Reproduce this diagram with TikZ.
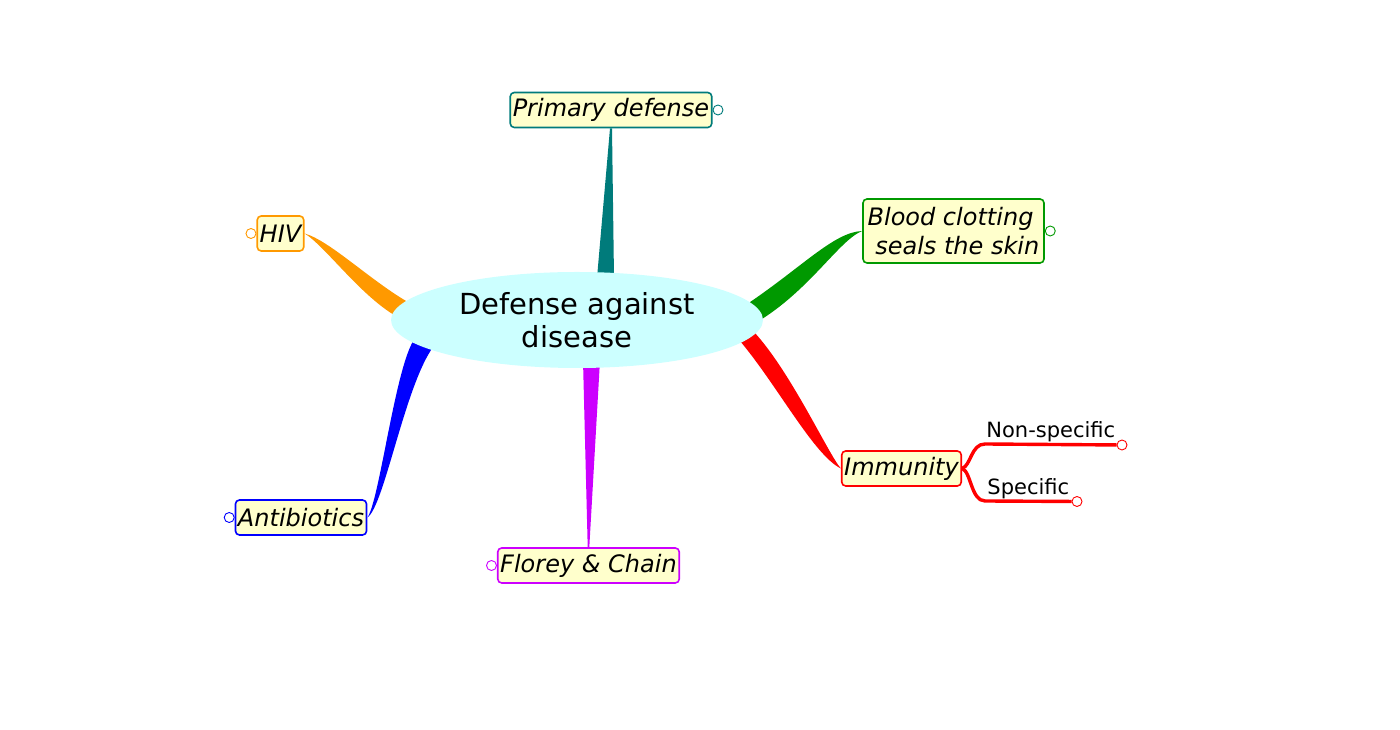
\documentclass[tikz,border=0pt]{standalone}
\usepackage{fontspec}
\setmainfont{DejaVu Sans}
\usepackage{tikz}
\usetikzlibrary{shapes.geometric,positioning,backgrounds}
\definecolor{rootfill}{RGB}{204,255,255}
\definecolor{topicfill}{RGB}{255,255,204}
\definecolor{primcol}{RGB}{0,123,123}
\definecolor{bloodcol}{RGB}{0,153,0}
\definecolor{immcol}{RGB}{255,0,0}
\definecolor{flocol}{RGB}{204,0,255}
\definecolor{anticol}{RGB}{0,0,255}
\definecolor{hivcol}{RGB}{255,153,0}
\tikzstyle{root} = [ellipse, fill=rootfill, minimum width=372pt, minimum height=96pt, inner sep=0pt, align=center, font=\fontsize{29}{33}\selectfont]
\tikzstyle{topic} = [rectangle, rounded corners=4pt, fill=topicfill, line width=1.6pt, inner xsep=2.5pt, inner ysep=5pt, minimum height=35pt, font=\fontsize{24}{29}\selectfont\itshape]
\tikzstyle{fold} = [circle, fill=white, line width=0.9pt, minimum size=10pt, inner sep=0pt]
\tikzstyle{sub} = [text=black, font=\fontsize{21}{24}\selectfont, inner sep=1pt, above]
\tikzstyle{subline} = [immcol, line width=3.4pt]

\begin{document}
\begin{tikzpicture}[x=1pt, y=1pt]
    \useasboundingbox (0,0) rectangle (1400,730);
    \node[root] (root) at (577,410) {Defense against\\disease};
    \node[topic, draw=primcol] (prim) at (611,620) {Primary defense};
    \node[topic, draw=bloodcol, align=left, minimum height=64pt, minimum width=181pt] (blood) at (953.5,499) {Blood clotting\\\hspace*{0.32em}seals the skin};
    \node[topic, draw=immcol] (imm) at (901.5,261.5) {Immunity};
    \node[topic, draw=flocol] (flo) at (588.5,164.5) {Florey \& Chain};
    \node[topic, draw=anticol] (anti) at (301,212.5) {Antibiotics};
    \node[topic, draw=hivcol] (hiv) at (280.5,496.5) {HIV};
    \node[fold, draw=primcol, right=0pt of prim] (primfold) {};
    \node[fold, draw=bloodcol, right=0pt of blood] (bloodfold) {};
    \node[fold, draw=flocol, left=0pt of flo] (flofold) {};
    \node[fold, draw=anticol, left=0pt of anti] (antifold) {};
    \node[fold, draw=hivcol, left=0pt of hiv] (hivfold) {};
    \node[fold, draw=immcol] (nsfold) at (1122,285) {};
    \node[fold, draw=immcol] (spfold) at (1077,228.5) {};
    \coordinate (nsbend) at (985,286);
    \coordinate (spbend) at (985,229);
    \draw[subline] (imm.east) .. controls +(9,3) and +(-14,0) .. (nsbend) -- (nsfold) node[sub, midway] (nonspec) {Non-specific};
    \draw[subline] (imm.east) .. controls +(9,-3) and +(-14,0) .. (spbend) -- (spfold) node[sub, midway] (spec) {Specific};
    \begin{scope}[on background layer]
        \fill[primcol] ([shift={(20,-6)}]root.north) -- ([xshift=-1pt]prim.south) -- ([xshift=1pt]prim.south) -- ([shift={(37,-6)}]root.north) -- cycle;
        \fill[flocol] ([shift={(6,8)}]root.south) -- ([xshift=-0.8pt]flo.north) -- ([xshift=0.8pt]flo.north) -- ([shift={(23,8)}]root.south) -- cycle;
        \fill[bloodcol] ([shift={(-16,16)}]root.east) .. controls +(55,37) and +(-28,-1) .. (blood.west) .. controls +(-23,-9) and +(53,32) .. ([shift={(-6,-2)}]root.east) -- cycle;
        \fill[immcol] ([shift={(-24,-20)}]root.east) .. controls +(38,-45) and +(-27,13) .. (imm.west) .. controls +(-12,13) and +(38,-40) .. ([shift={(-11,-10)}]root.east) -- cycle;
        \fill[anticol] ([shift={(23,-20)}]root.west) .. controls +(-19,-30) and +(12,16) .. (anti.east) .. controls +(17,11) and +(-29,-39) .. ([shift={(43,-26)}]root.west) -- cycle;
        \fill[hivcol] ([shift={(17,18)}]root.west) .. controls +(-38,22) and +(25,-7) .. (hiv.east) .. controls +(20,-12) and +(-36,21) .. ([shift={(5,4)}]root.west) -- cycle;
    \end{scope}
\end{tikzpicture}
\end{document}
